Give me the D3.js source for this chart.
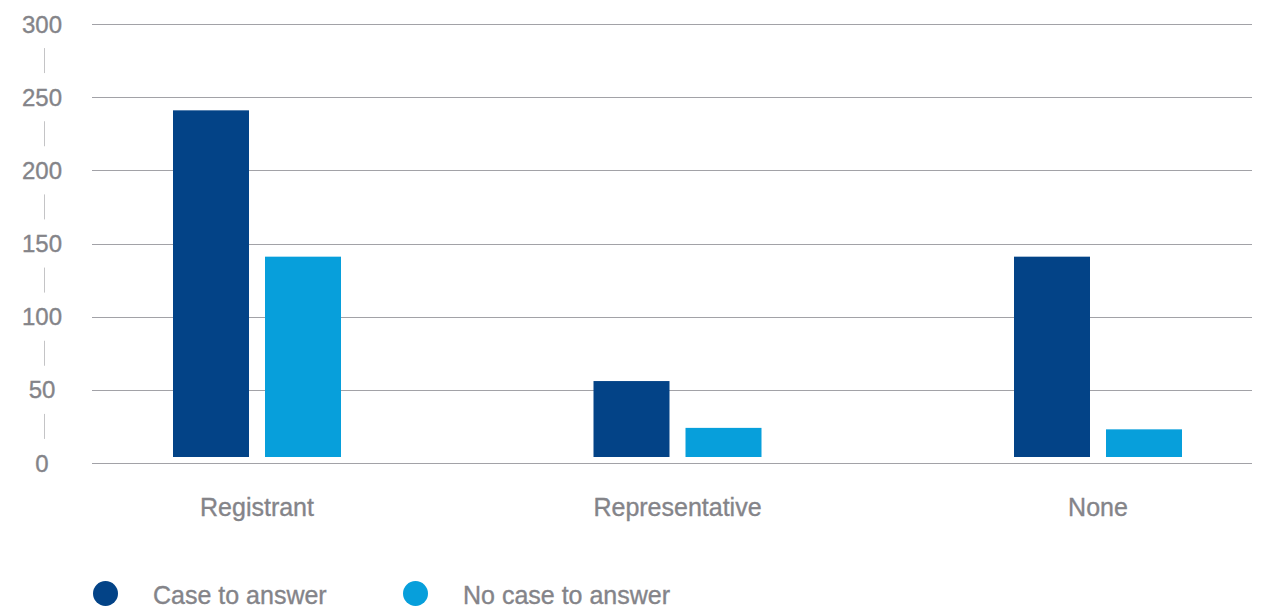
<!DOCTYPE html>
<html>
<head>
<meta charset="utf-8">
<script src="https://cdn.jsdelivr.net/npm/d3@7"></script>
<style>
  body { margin: 0; background: #fff; }
  svg { display: block; font-family: "Liberation Sans", Arial, sans-serif; }
  text { stroke: #848489; stroke-width: 0.35px; }
</style>
</head>
<body>
<div id="chart"></div>
<script>
// data
let categories = ["Registrant", "Representative", "None"];
let seriesNames = ["Case to answer", "No case to answer"];
let caseToAnswer = [241, 56, 141];
let noCaseToAnswer = [141, 24, 23];
let yTicks = [0, 50, 100, 150, 200, 250, 300];

let width = 1263, height = 606;
let colors = ["#034387", "#079fdb"];
let textColor = "#848489";

let svg = d3.select("#chart").append("svg")
  .attr("width", width)
  .attr("height", height);

// scales
let y = d3.scaleLinear().domain([0, 300]).range([463, 24]);
let x0 = d3.scalePoint().domain(categories).range([257, 1098]);
let x1 = d3.scaleBand().domain(seriesNames).range([-84, 84]).paddingInner(0.174);

// gridlines
svg.append("g").selectAll("line.grid")
  .data(yTicks)
  .enter().append("line")
  .attr("x1", 92).attr("x2", 1252)
  .attr("y1", d => Math.round(y(d)) + 0.5)
  .attr("y2", d => Math.round(y(d)) + 0.5)
  .attr("stroke", "#a2a2a7")
  .attr("stroke-width", 1.2);

// y labels
svg.append("g").selectAll("text")
  .data(yTicks)
  .enter().append("text")
  .attr("x", 42)
  .attr("y", d => y(d))
  .attr("dy", "0.36em")
  .attr("text-anchor", "middle")
  .attr("font-size", 24)
  .attr("fill", textColor)
  .text(d => d);

// small separators between labels
svg.append("g").selectAll("line")
  .data(yTicks.slice(1))
  .enter().append("line")
  .attr("x1", 44.5).attr("x2", 44.5)
  .attr("y1", d => y(d - 25) - 12.5)
  .attr("y2", d => y(d - 25) + 12.5)
  .attr("stroke", "#c4c4c6")
  .attr("stroke-width", 1);

// bars
let rows = categories.map((c, i) => ({
  cat: c,
  vals: [
    { name: seriesNames[0], value: caseToAnswer[i], color: colors[0] },
    { name: seriesNames[1], value: noCaseToAnswer[i], color: colors[1] }
  ]
}));

let group = svg.append("g").selectAll("g")
  .data(rows)
  .enter().append("g")
  .attr("transform", d => `translate(${x0(d.cat)},0)`);

group.selectAll("rect")
  .data(d => d.vals)
  .enter().append("rect")
  .attr("x", d => x1(d.name))
  .attr("width", x1.bandwidth())
  .attr("y", d => y(d.value))
  .attr("height", d => (y(0) - 6) - y(d.value))
  .attr("fill", d => d.color);

// category labels
svg.append("g").selectAll("text")
  .data(categories)
  .enter().append("text")
  .attr("x", d => x0(d))
  .attr("y", 516)
  .attr("text-anchor", "middle")
  .attr("font-size", 25)
  .attr("fill", textColor)
  .text(d => d);

// legend
let legendX = [105.5, 415.5];
let legend = svg.append("g").selectAll("g")
  .data(seriesNames)
  .enter().append("g")
  .attr("transform", (d, i) => `translate(${legendX[i]},593.5)`);

legend.append("circle")
  .attr("r", 12.5)
  .attr("fill", (d, i) => colors[i]);

legend.append("text")
  .attr("x", 47.5)
  .attr("y", 10)
  .attr("font-size", 25)
  .attr("fill", textColor)
  .text(d => d);
</script>
</body>
</html>
